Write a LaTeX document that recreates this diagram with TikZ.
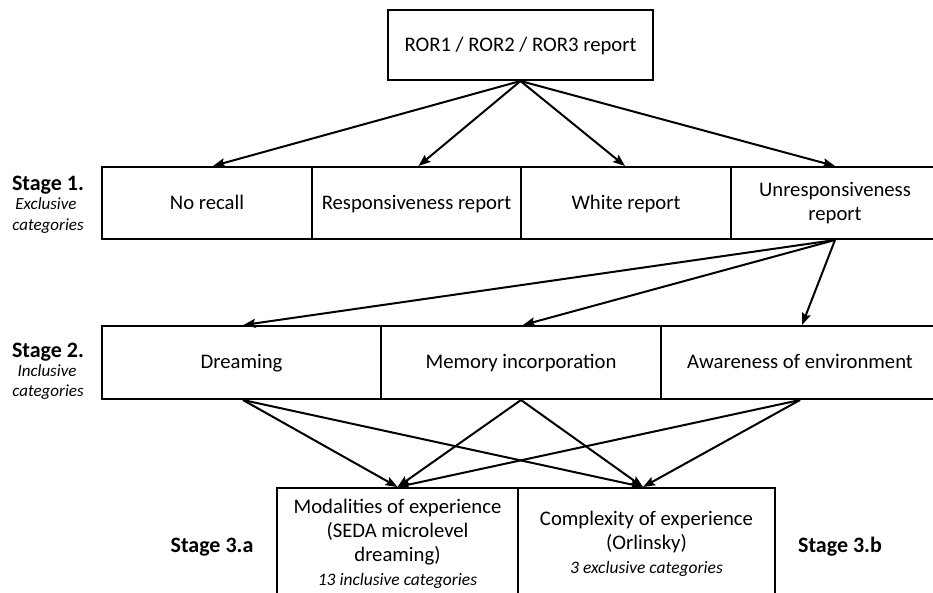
\documentclass[tikz,border=0pt]{standalone}
\usepackage{fontspec}
\setmainfont{Carlito}
\usetikzlibrary{arrows.meta,calc}
\begin{document}
\begin{tikzpicture}[x=1pt,y=-1pt,
  box/.style={draw,line width=2pt,inner sep=0pt,align=center,font=\fontsize{20.7}{24}\selectfont},
  one/.style={text height=17pt,text depth=5pt},
  arr/.style={line width=2pt,-{Stealth[length=12pt,width=9pt,inset=2pt]}},
  lab/.style={anchor=base,inner sep=0pt,font=\fontsize{22}{26}\selectfont\bfseries},
  sub/.style={anchor=base,inner sep=0pt,font=\fontsize{17}{20}\selectfont\itshape}]
\useasboundingbox (0,0) rectangle (933,592);
\fill[white] (0,0) rectangle (933,592);
\clip (0,0) rectangle (933,592);
% top
\node[box,one,minimum width=265pt,minimum height=70pt] (top) at (520.5,45) {ROR1 / ROR2 / ROR3 report};
% stage 1
\node[box,one,minimum width=210pt,minimum height=72pt] (nr) at (207,203) {No recall};
\node[box,one,minimum width=209pt,minimum height=72pt] (resp) at (416.5,203) {Responsiveness report};
\node[box,one,minimum width=210pt,minimum height=72pt] (white) at (626,203) {White report};
\node[box,minimum width=208pt,minimum height=72pt] (unresp) at (835,203) {Unresponsiveness\\report};
% stage 2
\node[box,one,minimum width=279pt,minimum height=73pt] (dream) at (241.5,362.5) {Dreaming};
\node[box,one,minimum width=280pt,minimum height=73pt] (mem) at (521,362.5) {Memory incorporation};
\node[box,one,minimum width=278pt,minimum height=73pt] (aware) at (800,362.5) {Awareness of environment};
% stage 3
\node[box,minimum width=241pt,minimum height=112pt] (mod) at (397.5,544) {Modalities of experience\\(SEDA microlevel\\dreaming)\\{\fontsize{17.5}{21}\selectfont\itshape 13 inclusive categories}};
\node[box,minimum width=257pt,minimum height=112pt] (comp) at (646.5,544) {Complexity of experience\\(Orlinsky)\\{\fontsize{17.5}{21}\selectfont\itshape 3 exclusive categories}};
% arrows
\draw[arr] (top.south) -- ([xshift=6pt]nr.north);
\draw[arr] (top.south) -- ([xshift=2pt]resp.north);
\draw[arr] (top.south) -- ([xshift=-1pt]white.north);
\draw[arr] (top.south) -- (unresp.north);
\draw[arr] (unresp.south) -- ([xshift=2pt]dream.north);
\draw[arr] (unresp.south) -- ([xshift=2pt]mem.north);
\draw[arr] (unresp.south) -- ([xshift=2pt]aware.north);
\draw[arr] ([xshift=1.5pt]dream.south) -- (mod.north);
\draw[arr] ([xshift=1.5pt]dream.south) -- ([xshift=-3.5pt]comp.north);
\draw[arr] (mem.south) -- (mod.north);
\draw[arr] (mem.south) -- ([xshift=-3.5pt]comp.north);
\draw[arr] (aware.south) -- (mod.north);
\draw[arr] (aware.south) -- ([xshift=-3.5pt]comp.north);
% stage labels
\node[lab] (s1) at (48,190) {Stage 1.};
\node[sub] (s1b) at (46,209) {Exclusive};
\node[sub] (s1c) at (48,230) {categories};
\node[lab] (s2) at (48,357) {Stage 2.};
\node[sub] (s2b) at (47,376) {Inclusive};
\node[sub] (s2c) at (48,396) {categories};
\node[lab] (s3a) at (212,552) {Stage 3.a};
\node[lab] (s3b) at (840,552) {Stage 3.b};
\end{tikzpicture}
\end{document}
